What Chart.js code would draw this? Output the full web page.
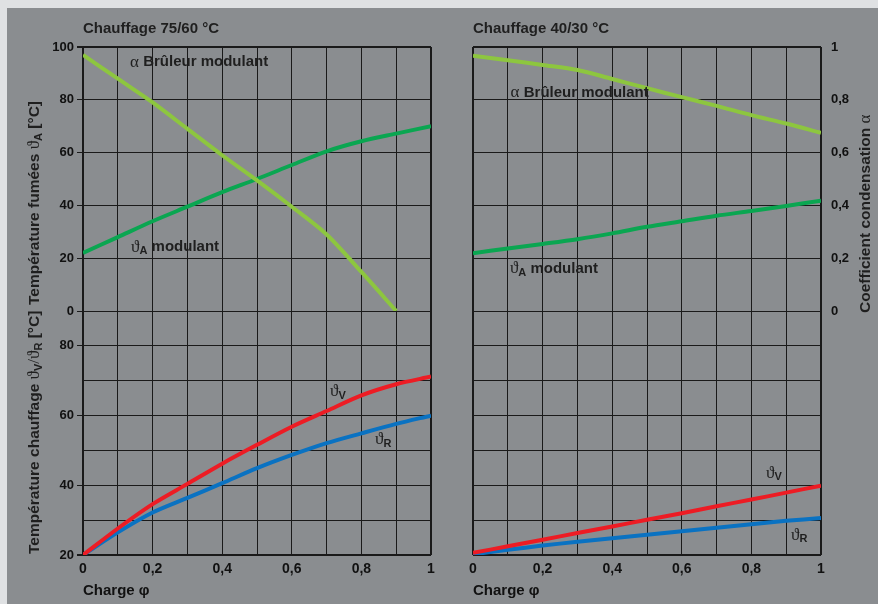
<!DOCTYPE html>
<html lang="fr">
<head>
<meta charset="utf-8">
<title>Coefficient condensation – Chauffage 75/60 et 40/30</title>
<script src="https://cdn.jsdelivr.net/npm/chart.js@4.4.1/dist/chart.umd.min.js"></script>
<style>
  html, body { margin: 0; padding: 0; }
  body { width: 878px; height: 604px; background: #dfe1e3; position: relative; overflow: hidden; }
  #panel { position: absolute; left: 7px; top: 8px; width: 871px; height: 596px; background: #8a8d90; }
  .box { position: absolute; top: 0; height: 596px; }
  #left { left: 0; width: 443px; }
  #right { left: 443px; width: 428px; }
</style>
</head>
<body>
<div id="panel">
  <div class="box" id="left"><canvas id="chart-75-60"></canvas></div>
  <div class="box" id="right"><canvas id="chart-40-30"></canvas></div>
</div>
<script>
// charge φ (axe x commun)
const charge = [0, 0.1, 0.2, 0.3, 0.4, 0.5, 0.6, 0.7, 0.8, 0.9, 1];

// Chauffage 75/60 °C
const alpha7560 = [0.97, 0.88, 0.79, 0.69, 0.59, 0.495, 0.395, 0.29, 0.148, 0.0];
const fumees7560 = [22, 28, 34, 39.5, 45, 50, 55.3, 60.5, 64.3, 67.2, 70];
const depart7560 = [20, 27.6, 34.6, 40.4, 46.2, 51.6, 56.8, 61.3, 65.8, 69, 71.2];
const retour7560 = [20, 26.5, 32.2, 36.4, 40.6, 44.9, 48.7, 52.1, 54.9, 57.6, 60];

// Chauffage 40/30 °C
const alpha4030 = [0.967, 0.95, 0.932, 0.913, 0.879, 0.844, 0.81, 0.777, 0.742, 0.71, 0.675];
const fumees4030 = [21.9, 23.7, 25.4, 27.2, 29.4, 31.9, 34.0, 36.1, 37.9, 39.8, 41.8];
const depart4030 = [20.6, 22.5, 24.4, 26.3, 28.2, 30.1, 32.0, 34.0, 35.9, 37.9, 39.9];
const retour4030 = [20.2, 21.5, 22.7, 23.8, 24.8, 25.8, 26.8, 27.8, 28.8, 29.8, 30.6];

// libellés des axes
const ticksCharge = [0, 0.2, 0.4, 0.6, 0.8, 1];
const ticksFumees = [0, 20, 40, 60, 80, 100];
const ticksChauffage = [20, 40, 60, 80];
const ticksAlpha = [0, 0.2, 0.4, 0.6, 0.8, 1];

const SANS = '"Liberation Sans", Arial, sans-serif';
const GREEK = '"Liberation Serif", "DejaVu Serif", serif';
const INK = '#111111';
const TEXT = '#1f1f1f';
const GRID = '#1a1a1a';

Chart.defaults.font.family = SANS;

const has = (list, v) => list.some((t) => Math.abs(t - v) < 1e-6);
const fmt = (v) => String(Math.round(v * 10) / 10).replace('.', ',');
const pts = (ys) => ys.map((y, i) => ({ x: charge[i], y }));
const bold = (s) => `bold ${s}px ${SANS}`;
const greek = (s) => `${s}px ${GREEK}`;

// texte avec indices (ϑA, ϑV ...)
function drawRich(ctx, parts, x, y, align) {
    let w = 0;
    parts.forEach((p) => { ctx.font = p.f; w += ctx.measureText(p.t).width; });
    let cx = align === 'center' ? x - w / 2 : align === 'end' ? x - w : x;
    parts.forEach((p) => {
        ctx.font = p.f;
        ctx.fillText(p.t, cx, y + (p.dy || 0));
        cx += ctx.measureText(p.t).width;
    });
}
const theta = (sub) => [{ t: 'ϑ', f: greek(17) }, { t: sub, f: bold(11), dy: 4 }];

const labelsPlugin = {
    id: 'panelLabels',
    afterDatasetsDraw(chart, args, opts) {
        const ctx = chart.ctx;
        ctx.save();
        ctx.fillStyle = TEXT;
        ctx.textBaseline = 'middle';
        opts.notes.forEach((n) => {
            const x = chart.scales.x.getPixelForValue(n.x);
            const y = chart.scales[n.axis].getPixelForValue(n.y);
            drawRich(ctx, n.parts, x, y, 'start');
        });
        // titres d'axes verticaux, lus de bas en haut, calés en bas de leur axe
        opts.titles.forEach((t) => {
            const s = chart.scales[t.axis];
            ctx.save();
            ctx.translate(t.x, s.bottom - (t.gap || 1));
            ctx.rotate(-Math.PI / 2);
            drawRich(ctx, t.parts, 0, 0, 'start');
            ctx.restore();
        });
        ctx.restore();
    },
};

function makeChart(id, cfg) {
    const left = cfg.showLeft;
    const tickFont = { size: 13, weight: 'bold' };
    return new Chart(document.getElementById(id), {
        type: 'line',
        data: {
            datasets: [
                { data: pts(cfg.alpha), yAxisID: 'aUp', borderColor: '#8dc63f' },
                { data: pts(cfg.fumees), yAxisID: 'yUp', borderColor: '#0aa651' },
                { data: pts(cfg.depart), yAxisID: 'yLow', borderColor: '#ed1c24' },
                { data: pts(cfg.retour), yAxisID: 'yLow', borderColor: '#0a72c2' },
            ].map((d) => ({ ...d, borderWidth: 4, pointRadius: 0, tension: 0.3, fill: false })),
        },
        options: {
            responsive: true,
            maintainAspectRatio: false,
            animation: false,
            devicePixelRatio: 1,
            events: [],
            layout: { padding: { left: 0, right: left ? 19 : 0, top: 0, bottom: 0 } },
            plugins: {
                legend: { display: false },
                tooltip: { enabled: false },
                title: {
                    display: true,
                    text: cfg.title,
                    align: 'start',
                    fullSize: false,
                    color: TEXT,
                    font: { size: 15, weight: 'bold' },
                    padding: { top: 12, bottom: 9 },
                },
                panelLabels: { notes: cfg.notes, titles: cfg.titles },
            },
            scales: {
                x: {
                    type: 'linear',
                    min: 0,
                    max: 1,
                    border: { display: false },
                    grid: {
                        color: GRID,
                        drawTicks: false,
                        lineWidth: (c) => (has([0, 1], c.tick.value) ? 2 : 1),
                    },
                    ticks: {
                        stepSize: 0.1,
                        autoSkip: false,
                        maxRotation: 0,
                        padding: 6,
                        color: INK,
                        font: { size: 14, weight: 'bold' },
                        callback: (v) => (has(ticksCharge, v) ? fmt(v) : ''),
                    },
                    title: {
                        display: true,
                        text: 'Charge φ',
                        align: 'start',
                        color: INK,
                        font: { size: 15, weight: 'bold' },
                        padding: { top: 0, bottom: 4 },
                    },
                    afterFit: (s) => { s.height = 49; },
                },
                // pile gauche : la dernière échelle déclarée se place en haut
                yLow: {
                    type: 'linear',
                    position: 'left',
                    stack: 'gauche',
                    stackWeight: 244,
                    min: 20,
                    max: 90,
                    border: { display: false },
                    grid: {
                        color: GRID,
                        drawTicks: left,
                        tickLength: 6,
                        tickColor: (c) => (has(ticksChauffage, c.tick.value) ? GRID : 'rgba(0,0,0,0)'),
                        lineWidth: (c) => (c.tick.value === 20 ? 2 : 1),
                    },
                    ticks: {
                        display: left,
                        stepSize: 10,
                        padding: 3,
                        color: INK,
                        font: tickFont,
                        callback: (v) => (has(ticksChauffage, v) ? v : ''),
                    },
                    afterFit: (s) => { s.width = left ? 76 : 23; },
                },
                yUp: {
                    type: 'linear',
                    position: 'left',
                    stack: 'gauche',
                    stackWeight: 264,
                    min: 0,
                    max: 100,
                    border: { display: false },
                    grid: {
                        color: GRID,
                        drawTicks: left,
                        tickLength: 6,
                        tickColor: (c) => (has(ticksFumees, c.tick.value) ? GRID : 'rgba(0,0,0,0)'),
                        lineWidth: (c) => (c.tick.value === 100 ? 2 : 1),
                    },
                    ticks: {
                        display: left,
                        stepSize: 20,
                        padding: 3,
                        color: INK,
                        font: tickFont,
                        callback: (v) => (has(ticksFumees, v) ? v : ''),
                    },
                    afterFit: (s) => { s.width = left ? 76 : 23; },
                },
                // pile droite : ici la première échelle déclarée se place en haut
                aUp: {
                    type: 'linear',
                    position: 'right',
                    stack: 'droite',
                    stackWeight: 264,
                    min: 0,
                    max: 1,
                    display: !left,
                    border: { display: false },
                    grid: { drawOnChartArea: false, drawTicks: false },
                    ticks: {
                        stepSize: 0.2,
                        padding: 10,
                        color: INK,
                        font: tickFont,
                        callback: (v) => (has(ticksAlpha, v) ? fmt(v) : ''),
                    },
                    afterFit: (s) => { s.width = left ? 0 : 57; },
                },
                aLow: {
                    type: 'linear',
                    position: 'right',
                    stack: 'droite',
                    stackWeight: 244,
                    min: 20,
                    max: 90,
                    display: false,
                    afterFit: (s) => { s.width = 0; },
                },
            },
        },
        plugins: [labelsPlugin],
    });
}

const bruleur = [{ t: 'α ', f: greek(17) }, { t: 'Brûleur modulant', f: bold(15) }];
const modulant = [...theta('A'), { t: ' modulant', f: bold(15) }];

document.addEventListener('DOMContentLoaded', () => {
    makeChart('chart-75-60', {
        showLeft: true,
        title: 'Chauffage 75/60 °C',
        alpha: alpha7560,
        fumees: fumees7560,
        depart: depart7560,
        retour: retour7560,
        notes: [
            { axis: 'yUp', x: 0.135, y: 94.3, parts: bruleur },
            { axis: 'yUp', x: 0.138, y: 24.2, parts: modulant },
            { axis: 'yLow', x: 0.71, y: 66.8, parts: theta('V') },
            { axis: 'yLow', x: 0.839, y: 53, parts: theta('R') },
        ],
        titles: [
            { axis: 'yUp', x: 28, gap: 6, parts: [{ t: 'Température fumées ', f: bold(15.5) }, ...theta('A'), { t: ' [°C]', f: bold(15.5) }] },
            { axis: 'yLow', x: 28, gap: 0, parts: [{ t: 'Température chauffage ', f: bold(15.5) }, ...theta('V'), { t: '/', f: greek(17) }, ...theta('R'), { t: ' [°C]', f: bold(15.5) }] },
        ],
    });

    makeChart('chart-40-30', {
        showLeft: false,
        title: 'Chauffage 40/30 °C',
        alpha: alpha4030,
        fumees: fumees4030,
        depart: depart4030,
        retour: retour4030,
        notes: [
            { axis: 'yUp', x: 0.108, y: 82.7, parts: bruleur },
            { axis: 'yUp', x: 0.106, y: 15.9, parts: modulant },
            { axis: 'yLow', x: 0.842, y: 43.5, parts: theta('V') },
            { axis: 'yLow', x: 0.914, y: 25.7, parts: theta('R') },
        ],
        titles: [
            { axis: 'aUp', x: 416, gap: -2, parts: [{ t: 'Coefficient condensation ', f: bold(15.5) }, { t: 'α', f: greek(17) }] },
        ],
    });
});
</script>
</body>
</html>
